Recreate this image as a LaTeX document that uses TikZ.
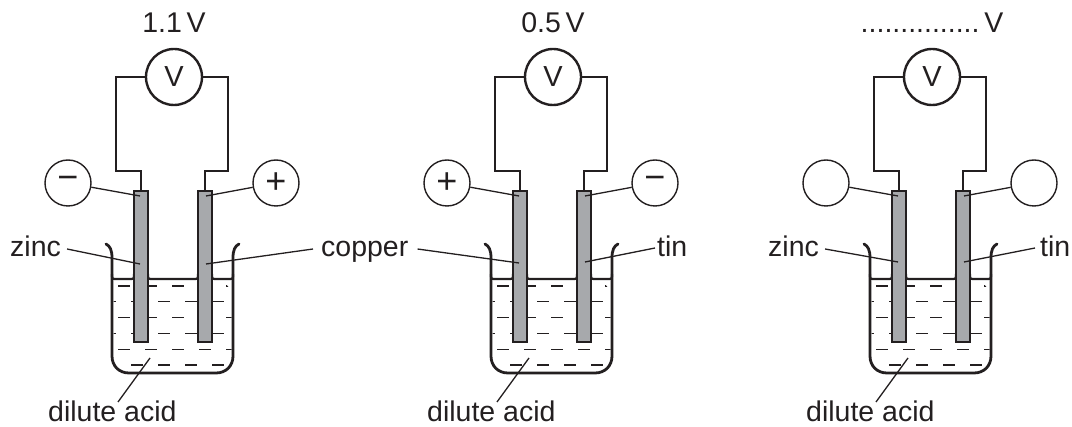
\documentclass[tikz,border=0pt]{standalone}
\usepackage{fontspec}
\setmainfont{Liberation Sans}
\usetikzlibrary{calc}
\definecolor{ink}{HTML}{231F20}
\definecolor{metal}{HTML}{A7A9AC}
\newcommand\mns{\char"2212\relax}
\begin{document}
\begin{tikzpicture}[x=1pt,y=-1pt,color=ink,
 lbl/.style={inner sep=0pt, font=\fontsize{28.5}{30}\selectfont},
 vmeter/.style={circle, draw, line width=2.4pt, minimum size=56pt, inner sep=0pt, font=\fontsize{29}{30}\selectfont},
 sign/.style={circle, draw, line width=1.4pt, minimum size=46pt, inner sep=0pt, font=\fontsize{36}{36}\selectfont},
 wire/.style={line width=2.5pt, line join=miter},
 electrode/.style={draw, fill=metal, line width=2pt, minimum width=14pt, minimum height=151pt, inner sep=0pt},
 leader/.style={line width=1.3pt},
 beaker/.style={line width=2.8pt, line cap=round},
 surf/.style={line width=2.2pt},
 acidline/.style={line width=1.3pt}
]
\useasboundingbox (0,0) rectangle (1072,427);

\foreach \i/\ox/\sl/\sr in {1/0/\mns/+,2/379/+/\mns,3/758//}{
\begin{scope}[xshift=\ox]
  % liquid dashes
  \begin{scope}
    \clip[rounded corners=15pt] (113.5,281) rectangle (231.5,371.5);
    \foreach \r in {0,...,5}{
      \pgfmathsetmacro\yy{286+\r*15.8}
      \pgfmathsetmacro\off{118-14*mod(\r,2)}
      \foreach \k in {0,...,5}{
        \draw[acidline] (\off+\k*27,\yy) -- ++(12,0);
      }
    }
  \end{scope}
  % liquid surface with menisci
  \draw[surf] (112,274) .. controls (112,279) .. (117,279) -- (129,279) .. controls (134,279) .. (134,274);
  \draw[surf] (148,274) .. controls (148,279) .. (153,279) -- (193,279) .. controls (198,279) .. (198,274);
  \draw[surf] (212,274) .. controls (212,279) .. (217,279) -- (228,279) .. controls (233,279) .. (233,274);
  % beaker
  \draw[beaker] (106,244) .. controls (110,246) and (112,250) .. (112,258)
     -- (112,356) .. controls (112,366) and (119,373) .. (129,373)
     -- (216,373) .. controls (226,373) and (233,366) .. (233,356)
     -- (233,258) .. controls (233,250) and (235,246) .. (239,244);
  % electrodes
  \node[electrode] (eL\i) at (141,266.5) {};
  \node[electrode] (eR\i) at (205,266.5) {};
  % voltmeter and wires
  \node[vmeter] (vm\i) at (174,77) {V};
  \coordinate (wl\i) at (116,171);
  \coordinate (wr\i) at (228,171);
  \draw[wire] (vm\i.west) -| (wl\i) -| (eL\i.north);
  \draw[wire] (vm\i.east) -| (wr\i) -| (eR\i.north);
  % sign circles
  \node[sign] (sL\i) at (68,183) {\sl};
  \node[sign] (sR\i) at (276,183) {\sr};
  \draw[leader] (sL\i) -- ($(eL\i.north)+(-1,6)$);
  \draw[leader] (sR\i) -- ($(eR\i.north)+(1,6)$);
  % dilute acid
  \node[lbl, anchor=base west] (acid\i) at (48,422) {dilute acid};
  \draw[leader] ($(acid\i.base west)+(70,-20)$) -- ($(eL\i.south)+(9,15)$);
\end{scope}
}

% voltage readings
\node[lbl, anchor=base] (v1) at (174,33) {1.1\,V};
\node[lbl, anchor=base] (v2) at (553,33) {0.5\,V};
\node[lbl, anchor=base] (v3) at (932,33) {...............\,V};

% metal labels
\node[lbl, anchor=base west] (zinc1) at (10,257) {zinc};
\draw[leader] ($(zinc1.base east)+(6,-8)$) -- ($(eL1.north)+(-1,74)$);
\node[lbl, anchor=base west] (copper) at (321,257) {copper};
\draw[leader] ($(copper.base west)+(-8,-8)$) -- ($(eR1.north)+(1,74)$);
\draw[leader] ($(copper.base east)+(9,-8)$) -- ($(eL2.north)+(-1,73)$);
\node[lbl, anchor=base west] (tin2) at (657,257) {tin};
\draw[leader] ($(tin2.base west)+(-2,-9)$) -- ($(eR2.north)+(1,72)$);
\node[lbl, anchor=base west] (zinc3) at (768,257) {zinc};
\draw[leader] ($(zinc3.base east)+(6,-8)$) -- ($(eL3.north)+(-1,72)$);
\node[lbl, anchor=base west] (tin3) at (1040,257) {tin};
\draw[leader] ($(tin3.base west)+(-5,-9)$) -- ($(eR3.north)+(1,72)$);
\end{tikzpicture}
\end{document}
